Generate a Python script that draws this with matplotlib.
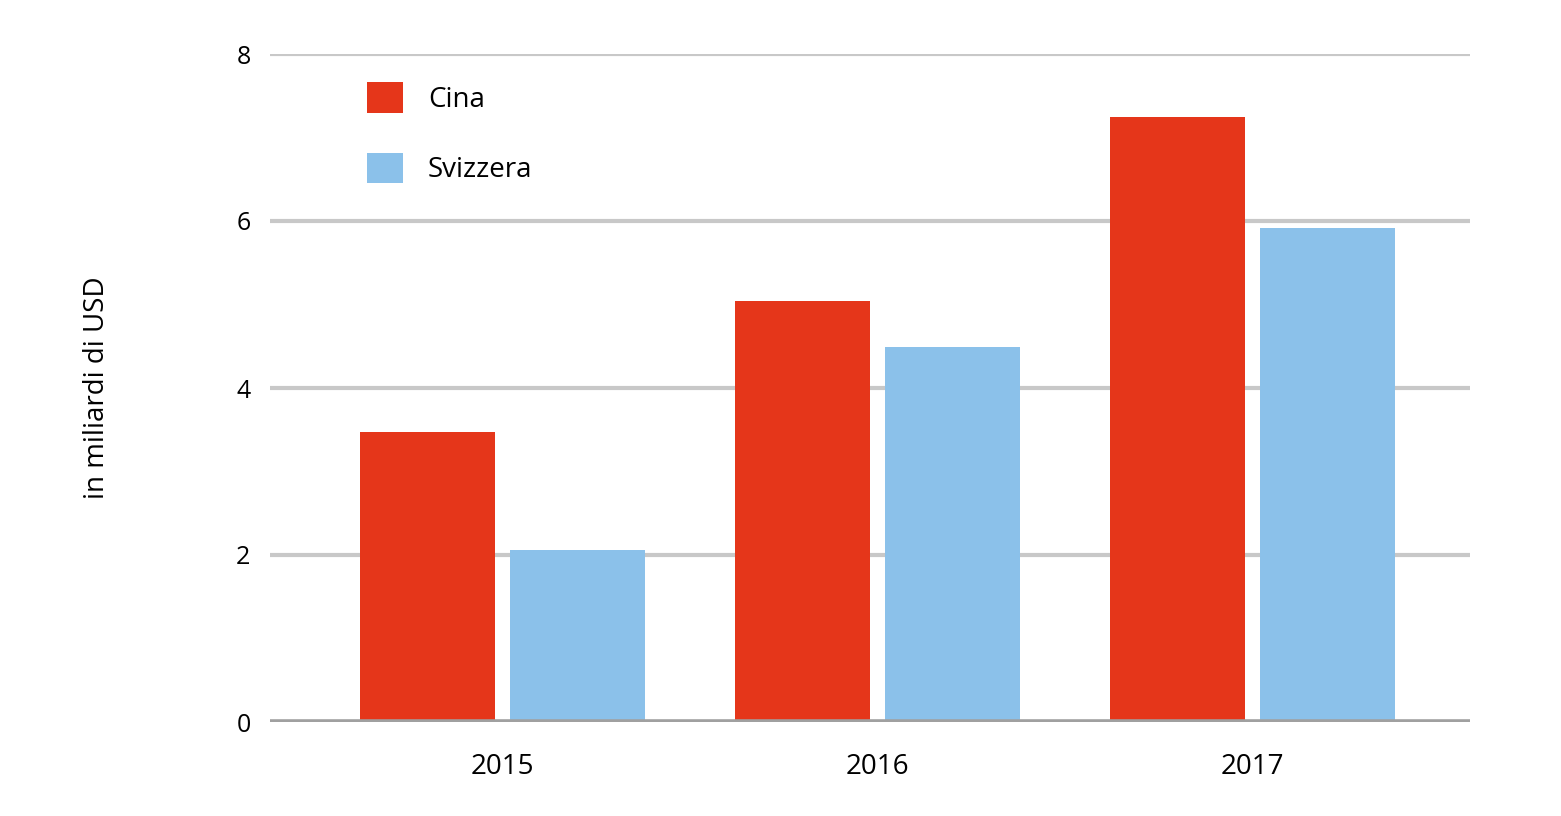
import matplotlib
matplotlib.use('Agg')
import matplotlib.pyplot as plt
import numpy as np

plt.rcParams["font.family"] = ["Open Sans", "DejaVu Sans"]

years = ["2015", "2016", "2017"]
cina = [3.47, 5.04, 7.25]
svizzera = [2.06, 4.49, 5.92]

fig = plt.figure(figsize=(15.61, 8.16), dpi=100)
ax = fig.add_axes([270 / 1561, 1 - 722 / 816, 1200 / 1561, 668 / 816])

x = np.arange(len(years))
w = 0.36
ax.bar(x - 0.2, cina, w, color='#E5361A', label='Cina', zorder=3)
ax.bar(x + 0.2, svizzera, w, color='#8BC1EA', label='Svizzera', zorder=3)

ax.set_xlim(-0.621, 2.579)
ax.set_ylim(0, 8)
ax.set_yticks([0, 2, 4, 6, 8])
ax.yaxis.grid(True, color='#c8c8c8', linewidth=3, zorder=0)
ax.axhline(0, color='#a0a0a0', linewidth=4, zorder=4)
for s in ax.spines.values():
    s.set_visible(False)
ax.tick_params(length=0, labelsize=18, pad=14)
ax.set_xticks(x)
ax.set_xticklabels(years, fontsize=20)
ax.tick_params(axis='x', pad=22)
ax.set_ylabel("in miliardi di USD", fontsize=20, labelpad=90)

ax.legend(loc='upper left', bbox_to_anchor=(0.06, 0.995), frameon=False, fontsize=20,
          handlelength=1.3, handleheight=1.3, labelspacing=1.4, handletextpad=0.9)

fig.savefig("out.png", dpi=100)
